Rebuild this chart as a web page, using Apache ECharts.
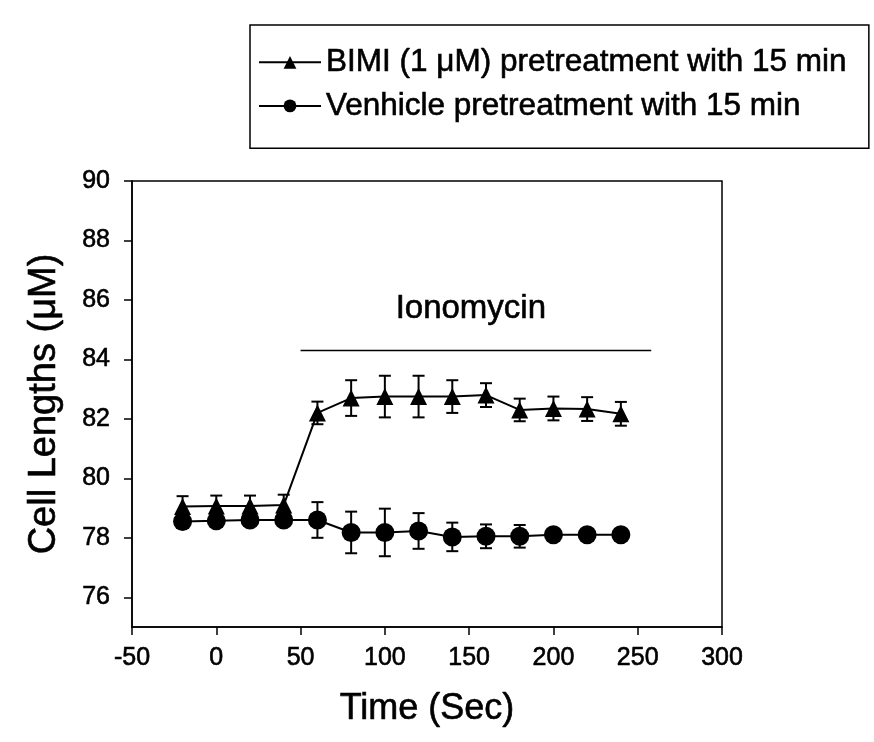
<!DOCTYPE html>
<html>
<head>
<meta charset="utf-8">
<script src="https://cdn.jsdelivr.net/npm/echarts@6/dist/echarts.min.js"></script>
<style>
html,body{margin:0;padding:0;background:#fff;}
#chart{width:874px;height:742px;}
</style>
</head>
<body>
<div id="chart"></div>
<script>
// ---- data ----
const timeSec = [-20, 0, 20, 40, 60, 80, 100, 120, 140, 160, 180, 200, 220, 240];
const bimiMean = [79.05, 79.07, 79.07, 79.1, 82.2, 82.7, 82.75, 82.75, 82.75, 82.8, 82.3, 82.35, 82.33, 82.17];
const bimiErr  = [0.35, 0.35, 0.35, 0.35, 0.38, 0.6, 0.7, 0.7, 0.55, 0.4, 0.38, 0.4, 0.4, 0.4];
const vehMean  = [78.55, 78.57, 78.6, 78.6, 78.6, 78.18, 78.18, 78.23, 78.03, 78.05, 78.05, 78.1, 78.1, 78.1];
const vehErr   = [0.2, 0.2, 0.2, 0.2, 0.6, 0.7, 0.8, 0.6, 0.48, 0.4, 0.38, 0.2, 0.2, 0.2];
const yTicks = [76, 78, 80, 82, 84, 86, 88, 90];
const ionomycinBar = [[50, 84.3], [258, 84.3]];
const ionomycinLabel = { x: 151, y: 85.7, text: 'Ionomycin' };
const seriesNames = ['BIMI (1 \u03bcM) pretreatment with 15 min', 'Venhicle pretreatment with 15 min'];

const FONT = '"Liberation Sans", Arial, sans-serif';
const THICK = { textBorderColor: '#000', textBorderWidth: 0.6 };

function pairs(xs, ys) { return xs.map((x, i) => [x, ys[i]]); }
function errData(xs, ys, es) { return xs.map((x, i) => [x, ys[i] - es[i], ys[i] + es[i]]); }

function errRender(params, api) {
  const x = api.value(0);
  const lo = api.coord([x, api.value(1)]);
  const hi = api.coord([x, api.value(2)]);
  const cap = 6;
  const st = { stroke: '#000', lineWidth: 2 };
  return {
    type: 'group',
    children: [
      { type: 'line', shape: { x1: lo[0], y1: lo[1], x2: hi[0], y2: hi[1] }, style: st },
      { type: 'line', shape: { x1: lo[0] - cap, y1: lo[1], x2: lo[0] + cap, y2: lo[1] }, style: st },
      { type: 'line', shape: { x1: hi[0] - cap, y1: hi[1], x2: hi[0] + cap, y2: hi[1] }, style: st }
    ]
  };
}

const chart = echarts.init(document.getElementById('chart'), null, { renderer: 'canvas' });
const option = {
  animation: false,
  backgroundColor: '#fff',
  textStyle: { fontFamily: FONT, color: '#000' },
  grid: { left: 132, top: 181, width: 590, height: 446, show: true, borderColor: '#000', borderWidth: 1.5, backgroundColor: 'transparent' },
  legend: {
    orient: 'vertical',
    left: 250, top: 25,
    padding: [21, 22, 26, 8],
    itemGap: 11,
    itemWidth: 62, itemHeight: 16,
    borderColor: '#000', borderWidth: 1.5,
    textStyle: Object.assign({ fontFamily: FONT, fontSize: 31.5, color: '#000' }, THICK),
    data: seriesNames
  },
  xAxis: {
    type: 'value', min: -50, max: 300, interval: 50,
    name: 'Time (Sec)', nameLocation: 'middle', nameGap: 64,
    nameTextStyle: Object.assign({ fontFamily: FONT, fontSize: 36, color: '#000' }, THICK),
    axisLine: { show: true, onZero: false, lineStyle: { color: '#000', width: 1.5 } },
    axisTick: { show: true, inside: false, length: 8, lineStyle: { color: '#000', width: 1.5 } },
    axisLabel: Object.assign({ fontFamily: FONT, fontSize: 25, color: '#000', margin: 19 }, THICK),
    splitLine: { show: false }
  },
  yAxis: {
    type: 'value', min: 75, max: 90,
    name: 'Cell Lengths (\u03bcM)', nameLocation: 'middle', nameGap: 68,
    nameTextStyle: Object.assign({ fontFamily: FONT, fontSize: 38, color: '#000' }, THICK),
    axisLine: { show: true, onZero: false, lineStyle: { color: '#000', width: 1.5 } },
    axisTick: { show: true, inside: false, length: 8, customValues: yTicks, lineStyle: { color: '#000', width: 1.5 } },
    axisLabel: Object.assign({ fontFamily: FONT, fontSize: 25, color: '#000', margin: 22, customValues: yTicks }, THICK),
    splitLine: { show: false }
  },
  series: [
    {
      type: 'custom', name: 'bimiErr', renderItem: errRender, data: errData(timeSec, bimiMean, bimiErr), z: 2, silent: true
    },
    {
      type: 'custom', name: 'vehErr', renderItem: errRender, data: errData(timeSec, vehMean, vehErr), z: 2, silent: true
    },
    {
      name: seriesNames[0], type: 'line', data: pairs(timeSec, bimiMean),
      symbol: 'triangle', symbolSize: 17, showAllSymbol: true,
      lineStyle: { color: '#000', width: 2 }, itemStyle: { color: '#000' }, z: 3
    },
    {
      name: seriesNames[1], type: 'line', data: pairs(timeSec, vehMean),
      symbol: 'circle', symbolSize: 19, showAllSymbol: true,
      lineStyle: { color: '#000', width: 2 }, itemStyle: { color: '#000' }, z: 3
    },
    {
      name: 'ionomycin', type: 'line', data: ionomycinBar, symbol: 'none',
      lineStyle: { color: '#000', width: 1.5 }, silent: true, z: 2
    },
    {
      name: 'ionomycinText', type: 'scatter', data: [[ionomycinLabel.x, ionomycinLabel.y]],
      symbolSize: 1, itemStyle: { color: 'rgba(0,0,0,0)', opacity: 1 }, silent: true,
      label: Object.assign({ show: true, position: 'inside', opacity: 1, formatter: ionomycinLabel.text, fontFamily: FONT, fontSize: 33, color: '#000' }, THICK)
    }
  ]
};
chart.setOption(option);
</script>
</body>
</html>
